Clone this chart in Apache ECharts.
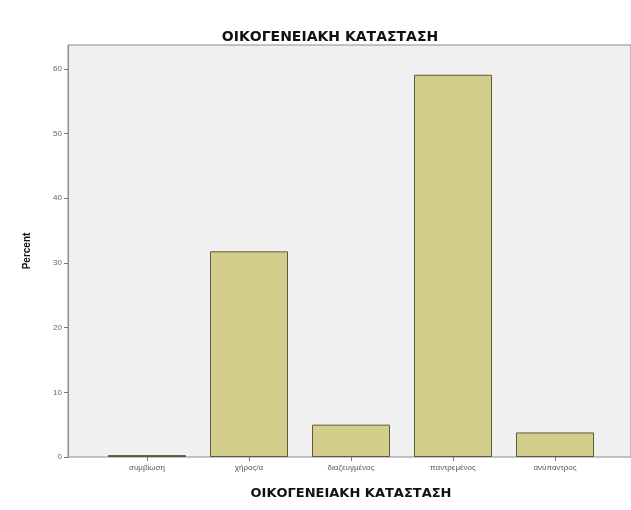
<!DOCTYPE html>
<html>
<head>
<meta charset="utf-8">
<script src="https://cdn.jsdelivr.net/npm/echarts@6/dist/echarts.min.js"></script>
<style>
  html, body { margin: 0; padding: 0; background: #fff; }
  #chart { width: 631px; height: 510px; }
</style>
</head>
<body>
<div id="chart"></div>
<script>
const categories = ["συμβίωση", "χήρος/α", "διαζευγμένος", "παντρεμένος", "ανύπαντρος"];
const percents = [0.3, 31.8, 5.0, 59.1, 3.8];
const yTicks = [0, 10, 20, 30, 40, 50, 60];

const yMax = 63.7;
const font = "'Liberation Sans', Arial, sans-serif";
const boldFont = "'DejaVu Sans', sans-serif";

const myChart = echarts.init(document.getElementById("chart"));
const option = {
  animation: false,
  backgroundColor: "#ffffff",
  title: {
    text: "ΟΙΚΟΓΕΝΕΙΑΚΗ ΚΑΤΑΣΤΑΣΗ",
    left: 325,
    textAlign: "center",
    top: 25,
    textStyle: { fontFamily: boldFont, fontSize: 14, fontWeight: "bold", color: "#111" },
  },
  grid: [
    // frame / background
    {
      left: 68, right: -3, top: 45, bottom: 53,
      show: true,
      backgroundColor: "#f0f0f0",
      borderColor: "#8c8c8c",
      borderWidth: 1,
    },
    // bars
    { left: 96, right: 25, top: 45, bottom: 53 },
  ],
  xAxis: [
    {
      gridIndex: 0,
      type: "value",
      min: 0, max: 1,
      show: false,
    },
    {
      gridIndex: 1,
      type: "category",
      data: categories,
      axisLine: { show: false },
      axisTick: { show: true, alignWithLabel: true, length: 4, lineStyle: { color: "#777" } },
      axisLabel: { fontFamily: font, fontSize: 8, color: "#555", margin: 7 },
      name: "ΟΙΚΟΓΕΝΕΙΑΚΗ ΚΑΤΑΣΤΑΣΗ",
      nameLocation: "middle",
      nameGap: 30,
      nameTextStyle: { fontFamily: boldFont, fontSize: 13, fontWeight: "bold", color: "#111" },
    },
  ],
  yAxis: [
    {
      gridIndex: 0,
      type: "value",
      min: 0, max: yMax,
      interval: 10,
      axisLine: { show: true, lineStyle: { color: "#8c8c8c" } },
      axisTick: { show: true, length: 4, lineStyle: { color: "#777" }, customValues: yTicks },
      axisLabel: { fontFamily: font, fontSize: 8, color: "#666", margin: 6, customValues: yTicks },
      splitLine: { show: false },
      name: "Percent",
      nameLocation: "middle",
      nameGap: 36,
      nameRotate: 90,
      nameTextStyle: { fontFamily: font, fontSize: 10, fontWeight: "bold", color: "#111" },
    },
    {
      gridIndex: 1,
      type: "value",
      min: 0, max: yMax,
      show: false,
    },
  ],
  series: [
    {
      type: "bar",
      xAxisIndex: 1,
      yAxisIndex: 1,
      data: percents,
      barWidth: 78,
      itemStyle: { color: "#d4ce8c", borderColor: "#5e5a3c", borderWidth: 1 },
    },
  ],
};
option && myChart.setOption(option);
</script>
</body>
</html>
